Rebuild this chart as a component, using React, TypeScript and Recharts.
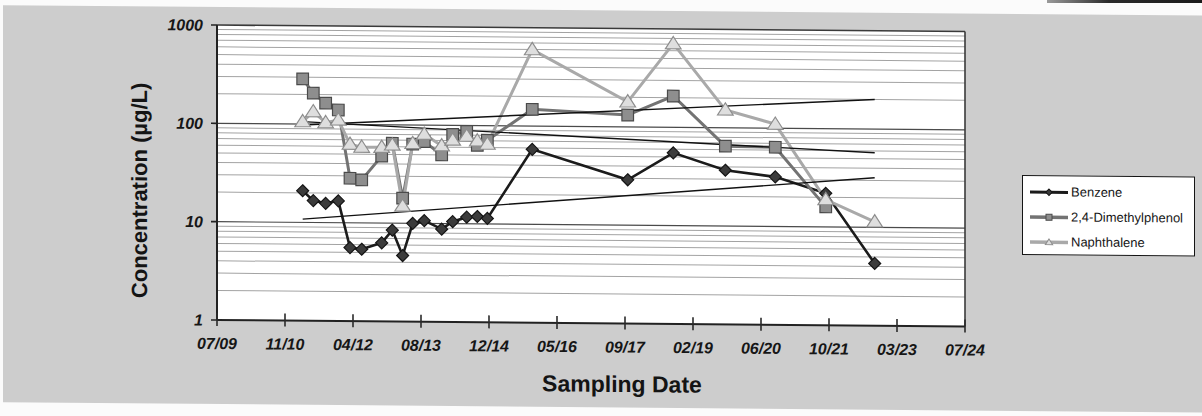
import React from 'react';
import { LineChart, Line, XAxis, YAxis, CartesianGrid, ReferenceLine, Legend } from 'recharts';

// Sampling events (ISO dates)
const sampleDates = [
  '2011-03-28', '2011-06-14', '2011-09-13', '2011-12-15', '2012-03-10', '2012-06-04',
  '2012-10-29', '2013-01-15', '2013-04-01', '2013-06-14', '2013-09-07', '2014-01-13',
  '2014-04-04', '2014-07-16', '2014-10-02', '2014-12-15', '2015-11-10', '2017-10-12',
  '2018-09-12', '2019-09-30', '2020-10-01', '2021-10-07', '2022-10-02',
];

// Concentrations, µg/L
const benzene = [
  21, 16.7, 15.7, 16.7, 5.6, 5.4, 6.3, 8.5, 4.7, 10, 10.7, 8.8,
  10.5, 11.7, 11.9, 11.4, 58, 29, 55, 37, 32, 22, 4.3,
];
const dimethylphenol = [
  288, 207, 164, 140, 28.4, 27.4, 48, 65, 18, 64, 68, 50,
  81, 87, 63, 71, 148, 132, 208, 65, 64, 16, null,
];
const naphthalene = [
  106, 134, 104, 111, 63, 59, 59, 62.5, 15, 65, 81, 62,
  71, 78, 70, 65, 600, 180, 710, 152, 110, 19, 11.4,
];

// Exponential trend lines (first and last sampling event)
const trendDates = ['2011-03-28', '2022-10-02'];
const benzeneTrend = [10.8, 32];
const dimethylphenolTrend = [106, 57.5];
const naphthaleneTrend = [98, 200];

// Axis ticks
const axisTickDates = [
  '2009-07-06', '2010-11-18', '2012-04-01', '2013-08-14', '2014-12-27', '2016-05-10',
  '2017-09-22', '2019-02-04', '2020-06-18', '2021-10-31', '2023-03-15', '2024-07-27',
];
const axisTickLabels = [
  '07/09', '11/10', '04/12', '08/13', '12/14', '05/16',
  '09/17', '02/19', '06/20', '10/21', '03/23', '07/24',
];
const concentrationTicks = [1, 10, 100, 1000];
const minorGridValues = [
  2, 3, 4, 5, 6, 7, 8, 9,
  20, 30, 40, 50, 60, 70, 80, 90,
  200, 300, 400, 500, 600, 700, 800, 900,
];
const majorGridValues = [10, 100];

const seriesNames = ['Benzene', '2,4-Dimethylphenol', 'Naphthalene'];

const FONT = '"Liberation Sans", Arial, Helvetica, sans-serif';

const toTime = (d: string) => Date.parse(d + 'T00:00:00Z');
const tickTimes = axisTickDates.map(toTime);
const labelByTime = new Map(tickTimes.map((t, i) => [t, axisTickLabels[i]]));

const toRows = (dates: string[], values: (number | null)[]) =>
  dates.map((d, i) => ({ t: toTime(d), v: values[i] }));

const benzeneRows = toRows(sampleDates, benzene);
const dimethylphenolRows = toRows(sampleDates, dimethylphenol);
const naphthaleneRows = toRows(sampleDates, naphthalene);
const benzeneTrendRows = toRows(trendDates, benzeneTrend);
const dimethylphenolTrendRows = toRows(trendDates, dimethylphenolTrend);
const naphthaleneTrendRows = toRows(trendDates, naphthaleneTrend);

const STYLE = {
  benzene: { line: '#1b1b1b', fill: '#3b3b3b', edge: '#151515' },
  dmp: { line: '#737373', fill: '#8e8e8e', edge: '#4a4a4a' },
  naph: { line: '#a9a9a9', fill: '#dedede', edge: '#8d8d8d' },
};

// Layout of the plotting area inside the 1202x416 canvas
const PLOT = { left: 217, right: 965, top: 25, bottom: 320 };

const diamondPath = (cx: number, cy: number, r: number) =>
  `M${cx},${cy - r}L${cx + r},${cy}L${cx},${cy + r}L${cx - r},${cy}Z`;
const squarePath = (cx: number, cy: number, r: number) =>
  `M${cx - r},${cy - r}H${cx + r}V${cy + r}H${cx - r}Z`;
const trianglePath = (cx: number, cy: number, r: number) =>
  `M${cx},${cy - r * 1.05}L${cx + r * 1.15},${cy + r * 0.75}H${cx - r * 1.15}Z`;

const makeDot = (kind: 'diamond' | 'square' | 'triangle', fill: string, edge: string, r: number) =>
  (p: any) => {
    const { cx, cy, index } = p;
    const key = `${kind}-${index}`;
    if (cx == null || cy == null || p.value == null || (Array.isArray(p.value) && p.value[1] == null)) {
      return <g key={key} />;
    }
    const d = kind === 'diamond' ? diamondPath(cx, cy, r) : kind === 'square' ? squarePath(cx, cy, r) : trianglePath(cx, cy, r);
    return <path key={key} d={d} fill={fill} stroke={edge} strokeWidth={1.2} />;
  };

const benzeneDot = makeDot('diamond', STYLE.benzene.fill, STYLE.benzene.edge, 6);
const dmpDot = makeDot('square', STYLE.dmp.fill, STYLE.dmp.edge, 5.8);
const naphDot = makeDot('triangle', STYLE.naph.fill, STYLE.naph.edge, 6.8);

// Date ticks: the mark crosses the axis line, label sits below
const DateTick = (props: any) => {
  const { x, y, payload } = props;
  const axisY = y - 12;
  return (
    <g>
      <line x1={x} x2={x} y1={axisY - 7} y2={axisY + 6} stroke="#2a2a2a" strokeWidth={1.6} />
      <text
        x={x}
        y={axisY + 29}
        textAnchor="middle"
        fontFamily={FONT}
        fontSize={16}
        fontWeight="bold"
        fontStyle="italic"
        fill="#161616"
      >
        {labelByTime.get(payload.value) ?? ''}
      </text>
    </g>
  );
};

const YTitle = () => {
  const x = 140;
  const y = 191;
  return (
    <text
      x={x}
      y={y}
      transform={`rotate(-90, ${x}, ${y})`}
      textAnchor="middle"
      dominantBaseline="central"
      fontFamily={FONT}
      fontSize={22}
      fontWeight="bold"
      fill="#141414"
    >
      Concentration (µg/L)
    </text>
  );
};

const XTitle = () => (
  <text
    x={(PLOT.left + PLOT.right) / 2 + 31}
    y={PLOT.bottom + 60.5}
    textAnchor="middle"
    dominantBaseline="central"
    fontFamily={FONT}
    fontSize={23}
    fontWeight="bold"
    fill="#141414"
  >
    Sampling Date
  </text>
);

const LegendSwatch = ({ kind, line, fill, edge, width }: any) => {
  const cy = 6;
  const cx = 20;
  const d = kind === 'diamond' ? diamondPath(cx, cy, 3.2) : kind === 'square' ? squarePath(cx, cy, 3) : trianglePath(cx, cy, 3.2);
  return (
    <svg width={40} height={12} style={{ display: 'block' }}>
      <line x1={1} x2={39} y1={cy} y2={cy} stroke={line} strokeWidth={width} />
      <path d={d} fill={fill} stroke={edge} strokeWidth={1} />
    </svg>
  );
};

const renderLegend = () => {
  const rows = [
    { name: seriesNames[0], kind: 'diamond', ...STYLE.benzene, width: 3 },
    { name: seriesNames[1], kind: 'square', ...STYLE.dmp, width: 3.5 },
    { name: seriesNames[2], kind: 'triangle', ...STYLE.naph, width: 3.5 },
  ];
  return (
    <div
      style={{
        width: 173,
        height: 80,
        boxSizing: 'border-box',
        border: '1.6px solid #151515',
        background: '#ffffff',
        paddingTop: 3,
      }}
    >
      {rows.map((r) => (
        <div key={r.name} style={{ display: 'flex', alignItems: 'center', height: 25, paddingLeft: 6 }}>
          <LegendSwatch kind={r.kind} line={r.line} fill={r.fill} edge={r.edge} width={r.width} />
          <span style={{ fontFamily: FONT, fontSize: 13, color: '#151515', marginLeft: 2, whiteSpace: 'nowrap' }}>
            {r.name}
          </span>
        </div>
      ))}
    </div>
  );
};

export default function App() {
  const t0 = tickTimes[0];
  const t1 = tickTimes[tickTimes.length - 1];
  return (
    <div
      style={{
        position: 'absolute',
        left: 0,
        top: 0,
        width: 1202,
        height: 416,
        overflow: 'hidden',
        background: '#fbfbfb',
      }}
    >
      <div
        style={{
          position: 'absolute',
          left: 1047,
          top: 0,
          width: 155,
          height: 3,
          background: 'linear-gradient(to right, #9a9a9a, #2a2a2a 40%, #1a1a1a)',
        }}
      />
      <div
        style={{
          position: 'absolute',
          left: 0,
          top: 0,
          width: 1202,
          height: 416,
          transform: 'skewY(0.5deg)',
          transformOrigin: `${PLOT.left}px 0px`,
        }}
      >
        <div
          style={{
            position: 'absolute',
            left: 3,
            top: 7,
            width: 1205,
            height: 397,
            background: '#cdcdcd',
          }}
        />
        <div style={{ position: 'absolute', left: 0, top: 0 }}>
          <LineChart
            width={1202}
            height={416}
            margin={{ top: PLOT.top, right: 1202 - PLOT.right, bottom: 416 - PLOT.bottom - 40, left: PLOT.left - 60 }}
          >
            <CartesianGrid
              horizontal
              vertical={false}
              horizontalValues={minorGridValues}
              stroke="#a3a3a3"
              strokeWidth={1}
              fill="#ffffff"
              fillOpacity={1}
            />
            <CartesianGrid
              horizontal
              vertical={false}
              horizontalValues={majorGridValues}
              stroke="#4a4a4a"
              strokeWidth={1.2}
            />
            <XAxis
              type="number"
              dataKey="t"
              domain={[t0, t1]}
              ticks={tickTimes}
              interval={0}
              allowDataOverflow
              height={40}
              tickSize={6}
              tickMargin={6}
              tickLine={false}
              tick={<DateTick />}
              axisLine={{ stroke: '#222222', strokeWidth: 2 }}
              label={<XTitle />}
            />
            <YAxis
              type="number"
              scale="log"
              domain={[1, 1000]}
              ticks={concentrationTicks}
              interval={0}
              allowDataOverflow
              width={60}
              tickSize={6}
              tickMargin={8}
              tickLine={{ stroke: '#222222', strokeWidth: 1.6 }}
              axisLine={{ stroke: '#222222', strokeWidth: 2 }}
              tick={{ fontFamily: FONT, fontSize: 16, fontWeight: 'bold', fontStyle: 'italic', fill: '#161616' }}
              label={<YTitle />}
            />
            <ReferenceLine y={1000} stroke="#3a3a3a" strokeWidth={1.6} />
            <ReferenceLine x={t1} stroke="#3a3a3a" strokeWidth={1.6} />
            <Line
              data={benzeneRows}
              dataKey="v"
              name={seriesNames[0]}
              stroke={STYLE.benzene.line}
              strokeWidth={2.6}
              dot={benzeneDot}
              activeDot={false}
              isAnimationActive={false}
            />
            <Line
              data={dimethylphenolRows}
              dataKey="v"
              name={seriesNames[1]}
              stroke={STYLE.dmp.line}
              strokeWidth={3}
              dot={dmpDot}
              activeDot={false}
              isAnimationActive={false}
            />
            <Line
              data={naphthaleneRows}
              dataKey="v"
              name={seriesNames[2]}
              stroke={STYLE.naph.line}
              strokeWidth={3}
              dot={naphDot}
              activeDot={false}
              isAnimationActive={false}
            />
            <Line
              data={benzeneTrendRows}
              dataKey="v"
              stroke="#111111"
              strokeWidth={1.4}
              dot={false}
              activeDot={false}
              legendType="none"
              isAnimationActive={false}
            />
            <Line
              data={dimethylphenolTrendRows}
              dataKey="v"
              stroke="#111111"
              strokeWidth={1.4}
              dot={false}
              activeDot={false}
              legendType="none"
              isAnimationActive={false}
            />
            <Line
              data={naphthaleneTrendRows}
              dataKey="v"
              stroke="#111111"
              strokeWidth={1.4}
              dot={false}
              activeDot={false}
              legendType="none"
              isAnimationActive={false}
            />
            <Legend
              content={renderLegend}
              layout="vertical"
              align="center"
              verticalAlign="middle"
              wrapperStyle={{ position: 'absolute', left: 1022, top: 168, width: 173, height: 80 }}
            />
          </LineChart>
        </div>
      </div>
    </div>
  );
}
